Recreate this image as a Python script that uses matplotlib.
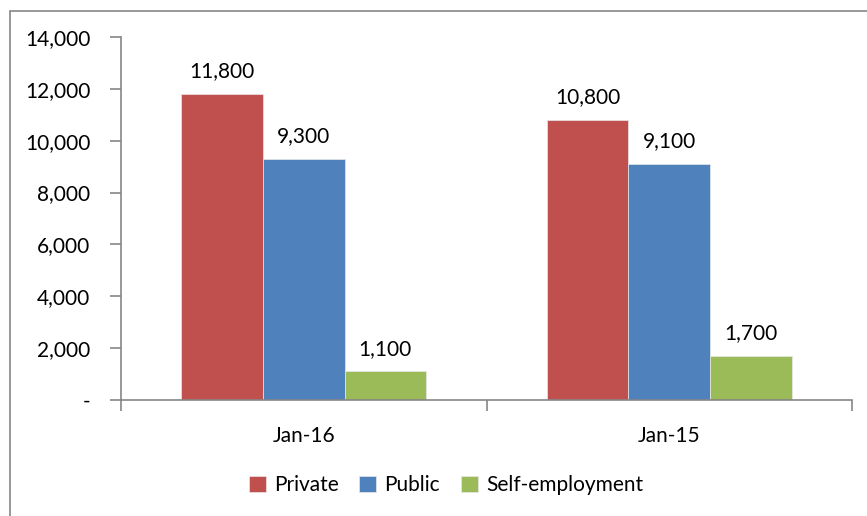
import matplotlib
matplotlib.use("Agg")
import matplotlib.pyplot as plt
from matplotlib.patches import Rectangle
import numpy as np

categories = ["Jan-16", "Jan-15"]
series_names = ["Private", "Public", "Self-employment"]
private = [11800, 10800]
public = [9300, 9100]
self_emp = [1100, 1700]
yticks = [0, 2000, 4000, 6000, 8000, 10000, 12000, 14000]
ytick_labels = ["-", "2,000", "4,000", "6,000", "8,000", "10,000", "12,000", "14,000"]

colors = ["#C0504D", "#4F81BD", "#9BBB59"]
plt.rcParams['font.family'] = ['Lato', 'DejaVu Sans']
FS = 15

fig = plt.figure(figsize=(8.67, 5.16), dpi=100)
W, H = 867, 516
ax = fig.add_axes([121 / W, 1 - 400 / H, (852 - 121) / W, (400 - 37) / H])

# outer chart border
fig.patches.append(Rectangle((10 / W, -0.1), 1.2, 1 - 11 / H + 0.1, transform=fig.transFigure,
                             fill=False, edgecolor="#868686", linewidth=1.2))

x = np.arange(len(categories))
bw = 0.223
data = [private, public, self_emp]
for i, (vals, name, c) in enumerate(zip(data, series_names, colors)):
    pos = x + (i - 1) * bw
    ax.bar(pos, vals, width=bw, color=c, edgecolor="#E8E8E8", linewidth=0.5, label=name)
    for p, v in zip(pos, vals):
        ax.annotate(f"{v:,}", (p, v), xytext=(0, 9), textcoords="offset points",
                    ha="center", va="bottom", fontsize=FS)

ax.set_xlim(-0.5, 1.5)
ax.set_ylim(0, 14000)
ax.set_yticks(yticks)
ax.set_yticklabels(ytick_labels, fontsize=FS)
ax.set_xticks([-0.5, 0.5, 1.5])
ax.set_xticklabels([])
ax.set_xticks(x, minor=True)
ax.set_xticklabels(categories, minor=True, fontsize=FS)
ax.tick_params(axis="x", which="minor", length=0, pad=19)
ax.tick_params(axis="x", which="major", length=8, direction="out", color="#868686", width=1.2)
ax.tick_params(axis="y", length=8, direction="out", color="#868686", width=1.2, pad=14)
for s in ["top", "right"]:
    ax.spines[s].set_visible(False)
for s in ["left", "bottom"]:
    ax.spines[s].set_color("#868686")
    ax.spines[s].set_linewidth(1.2)

fig.legend(loc="center", bbox_to_anchor=(446 / W, 1 - 485 / H), ncol=3, frameon=False,
           fontsize=FS, handlelength=0.8, handleheight=0.8, handletextpad=0.4, columnspacing=1.0)

fig.savefig("out.png", dpi=100)
